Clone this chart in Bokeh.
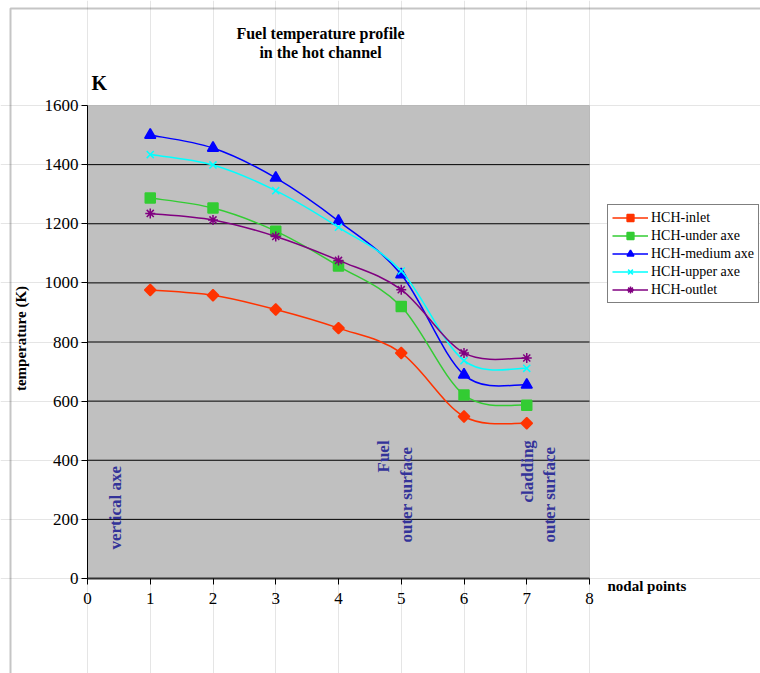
import numpy as np
from bokeh.plotting import figure
from bokeh.models import (Label, Legend, LegendItem, FixedTicker, BoxAnnotation,
                          Range1d, LinearAxis)
from bokeh.embed import file_html
from bokeh.resources import INLINE

# ---------------- data ----------------
nodes = [1, 2, 3, 4, 5, 6, 7]
hch_inlet = [976, 958, 910, 847, 763, 548, 525]
hch_under_axe = [1287, 1253, 1175, 1057, 920, 621, 586]
hch_medium_axe = [1500, 1456, 1355, 1209, 1028, 689, 655]
hch_upper_axe = [1434, 1399, 1312, 1188, 1040, 737, 711]
hch_outlet = [1235, 1213, 1157, 1076, 977, 763, 746]

series_names = ["HCH-inlet", "HCH-under axe", "HCH-medium axe", "HCH-upper axe", "HCH-outlet"]
series_values = [hch_inlet, hch_under_axe, hch_medium_axe, hch_upper_axe, hch_outlet]
colors = ["#FF3300", "#33CC33", "#0000FF", "#00FFFF", "#800080"]
markers = ["square", "square", "triangle", "x", "asterisk"]
marker_angles = [np.pi / 4, 0, 0, 0, 0]
marker_sizes = [8, 10, 11, 10, 10]

x_ticks = [0, 1, 2, 3, 4, 5, 6, 7, 8]
y_ticks = [0, 200, 400, 600, 800, 1000, 1200, 1400, 1600]
grid_ticks = [200, 400, 600, 800, 1000, 1200, 1400]

# ---------------- layout ----------------
W, H = 760, 673
L, R, T, B = 87, 589, 105, 578   # plot-area edges in pixels
X0, X1 = 0, 8
Y0, Y1 = 0, 1600


def dx(px):
    return X0 + (px - L) / (R - L) * (X1 - X0)


def dy(py):
    return Y0 + (B - py) / (B - T) * (Y1 - Y0)


SERIF = "Liberation Serif"
TXTBLUE = "#333399"

p = figure(width=W, height=H, output_backend="svg", toolbar_location=None,
           title=None, x_axis_location=None, y_axis_location=None,
           x_range=Range1d(dx(0), dx(W)), y_range=Range1d(dy(H), dy(0)),
           min_border=0)
p.background_fill_color = "white"
p.border_fill_color = "white"
p.outline_line_color = None

# outer chart frame (left and top edges visible)
p.add_layout(BoxAnnotation(left=dx(10), right=dx(W + 50), top=dy(8), bottom=dy(H + 50),
                           fill_alpha=0, line_color="#404040", line_width=2,
                           level="underlay"))
# plot area
p.add_layout(BoxAnnotation(left=X0, right=X1, bottom=Y0, top=Y1,
                           fill_color="#C0C0C0", fill_alpha=1,
                           line_color="#808080", line_width=1, level="underlay"))

# horizontal grid lines limited to the plot area
p.segment(x0=[X0] * len(grid_ticks), x1=[X1] * len(grid_ticks),
          y0=grid_ticks, y1=grid_ticks, line_color="black", line_width=1)

# axes
xax = LinearAxis(fixed_location=Y0, bounds=(X0, X1), ticker=FixedTicker(ticks=x_ticks))
yax = LinearAxis(fixed_location=X0, bounds=(Y0, Y1), ticker=FixedTicker(ticks=y_ticks))
for ax in (xax, yax):
    ax.axis_line_color = "black"
    ax.major_tick_line_color = "black"
    ax.major_tick_out = 6
    ax.major_tick_in = 0
    ax.minor_tick_line_color = None
    ax.major_label_text_font = SERIF
    ax.major_label_text_font_size = "17px"
    ax.major_label_text_color = "black"
xax.axis_line_width = 2
xax.axis_line_color = "#303030"
yax.major_label_standoff = 3
xax.major_label_standoff = 8
p.add_layout(xax, "below")
p.add_layout(yax, "left")


def smooth_segments(xs, ys):
    x = np.asarray(xs, float)
    y = np.asarray(ys, float)
    n = len(x)
    xp = np.concatenate([[x[0]], x, [x[-1]]])
    yp = np.concatenate([[y[0]], y, [y[-1]]])
    x0, y0 = x[:-1], y[:-1]
    x1, y1 = x[1:], y[1:]
    cx0 = x0 + (xp[2:n + 1] - xp[0:n - 1]) / 6.0
    cy0 = y0 + (yp[2:n + 1] - yp[0:n - 1]) / 6.0
    cx1 = x1 - (xp[3:n + 2] - xp[1:n]) / 6.0
    cy1 = y1 - (yp[3:n + 2] - yp[1:n]) / 6.0
    return dict(x0=x0, y0=y0, x1=x1, y1=y1, cx0=cx0, cy0=cy0, cx1=cx1, cy1=cy1)


items = []
for name, vals, col, mk, ang, ms in zip(series_names, series_values, colors, markers,
                                        marker_angles, marker_sizes):
    seg = smooth_segments(nodes, vals)
    bez = p.bezier(line_color=col, line_width=1.5, **seg)
    sc = p.scatter(nodes, vals, marker=mk, size=ms, angle=ang, fill_color=col,
                   line_color=col, line_width=1.5)
    items.append(LegendItem(label=name, renderers=[bez, sc]))

legend = Legend(items=items, location=(607, H - 303))
legend.label_text_font = SERIF
legend.label_text_font_size = "14px"
legend.label_text_color = "black"
legend.border_line_color = "black"
legend.border_line_width = 1
legend.background_fill_color = "white"
legend.background_fill_alpha = 1
legend.glyph_width = 36
legend.glyph_height = 17
legend.label_height = 17
legend.label_standoff = 3
legend.spacing = 1
legend.padding = 4
legend.margin = 0
p.add_layout(legend)


# texts
def lab(text, px, py, size, bold=True, align="center", baseline="middle",
        angle=0.0, color="black"):
    p.add_layout(Label(x=dx(px), y=dy(py), text=text, text_font=SERIF,
                       text_font_size=size, text_font_style="bold" if bold else "normal",
                       text_align=align, text_baseline=baseline, angle=angle,
                       text_color=color))


lab("Fuel temperature profile", 320, 33, "16px")
lab("in the hot channel", 320, 52, "16px")
lab("K", 91, 82, "20px", align="left")
lab("temperature (K)", 20, 338, "15px", angle=np.pi / 2)
lab("nodal points", 607, 585, "15px", align="left")

lab("vertical axe", 115, 549, "17px", align="left", angle=np.pi / 2, color=TXTBLUE)
lab("Fuel", 383, 472, "17px", align="left", angle=np.pi / 2, color=TXTBLUE)
lab("outer surface", 406, 542, "17px", align="left", angle=np.pi / 2, color=TXTBLUE)
lab("cladding", 527, 502, "17px", align="left", angle=np.pi / 2, color=TXTBLUE)
lab("outer surface", 549, 542, "17px", align="left", angle=np.pi / 2, color=TXTBLUE)

open("out.html", "w").write(file_html(p, INLINE))
